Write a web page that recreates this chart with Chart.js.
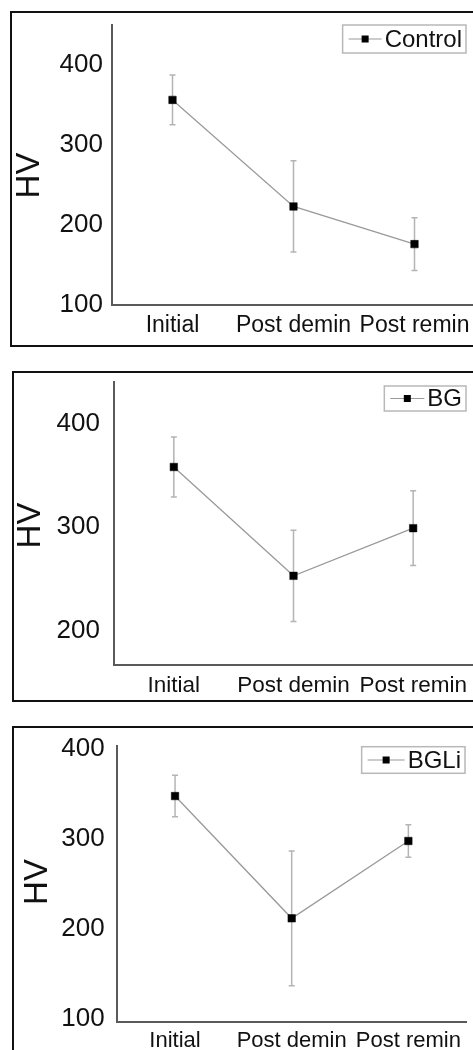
<!DOCTYPE html>
<html>
<head>
<meta charset="utf-8">
<script src="https://cdn.jsdelivr.net/npm/chart.js@4/dist/chart.umd.min.js"></script>
<style>
  html, body { margin: 0; padding: 0; background: #fff; overflow: hidden; width: 473px; height: 1050px; }
  .panel-canvas { position: absolute; left: 0; }
  .frame { position: absolute; border: 2px solid #111; box-sizing: border-box; pointer-events: none; }
</style>
</head>
<body>
<canvas id="cControl" class="panel-canvas" width="490" height="345" style="top:0px"></canvas>
<canvas id="cBG" class="panel-canvas" width="490" height="350" style="top:350px"></canvas>
<canvas id="cBGLi" class="panel-canvas" width="490" height="350" style="top:700px"></canvas>
<div class="frame" style="left:10px; top:11px; width:480px; height:336px;"></div>
<div class="frame" style="left:12px; top:371px; width:480px; height:331px;"></div>
<div class="frame" style="left:12px; top:726px; width:480px; height:400px;"></div>
<script>
// Hardness (HV) at the three stages, mean and standard deviation per group
const CATEGORIES = ['Initial', 'Post demin', 'Post remin'];
const Y_TITLE = 'HV';

const CONTROL_MEAN = [356, 223, 176];
const CONTROL_SD = [31, 57, 33];

const BG_MEAN = [358, 253, 299];
const BG_SD = [29, 44, 36];

const BGLI_MEAN = [348, 212, 298];
const BGLI_SD = [23, 75, 18];

const CONTROL_TICKS = [100, 200, 300, 400];
const BG_TICKS = [200, 300, 400];
const BGLI_TICKS = [100, 200, 300, 400];

const FONT = '"Liberation Sans", Arial, Helvetica, sans-serif';

function makePanel(id, label, means, sds, ticks, s) {
  // vertical error bars with caps, drawn under the line and markers
  const errorBars = {
    id: 'errorBars',
    beforeDatasetsDraw(chart) {
      const {ctx, scales: {x, y}} = chart;
      ctx.save();
      ctx.strokeStyle = '#b4b4b4';
      ctx.lineWidth = 1.5;
      means.forEach((m, i) => {
        const px = x.getPixelForValue(i);
        const top = y.getPixelForValue(m + sds[i]);
        const bot = y.getPixelForValue(m - sds[i]);
        ctx.beginPath();
        ctx.moveTo(px, top); ctx.lineTo(px, bot);
        ctx.moveTo(px - 3, top); ctx.lineTo(px + 3, top);
        ctx.moveTo(px - 3, bot); ctx.lineTo(px + 3, bot);
        ctx.stroke();
      });
      ctx.restore();
    }
  };

  // boxed legend in the upper right corner: line, square marker, line, name
  const boxLegend = {
    id: 'boxLegend',
    afterDraw(chart) {
      const ctx = chart.ctx;
      ctx.save();
      ctx.font = '24px ' + FONT;
      const tw = ctx.measureText(label).width;
      const symW = s.legSym;
      const w = symW + tw + 4;
      const left = s.legRight - w;
      const top = s.legTop;
      const h = s.legH;
      const cy = top + h / 2;
      ctx.strokeStyle = '#b8b8b8';
      ctx.lineWidth = 1.5;
      ctx.strokeRect(left, top, w, h);
      ctx.strokeStyle = '#9a9a9a';
      ctx.lineWidth = 1.2;
      ctx.beginPath();
      ctx.moveTo(left + 6, cy); ctx.lineTo(left + symW - 3, cy);
      ctx.stroke();
      ctx.fillStyle = '#000';
      const mx = left + (symW + 3) / 2;
      ctx.fillRect(mx - 3.5, cy - 3.5, 7, 7);
      ctx.fillStyle = '#111';
      ctx.textBaseline = 'middle';
      ctx.textAlign = 'left';
      ctx.fillText(label, left + symW, cy + 1);
      ctx.restore();
    }
  };

  // rotated axis title
  const sideTitle = {
    id: 'sideTitle',
    afterDraw(chart) {
      const ctx = chart.ctx;
      ctx.save();
      ctx.translate(s.titleX, s.titleY);
      ctx.rotate(-Math.PI / 2);
      ctx.font = '33px ' + FONT;
      ctx.fillStyle = '#111';
      ctx.textAlign = 'center';
      ctx.textBaseline = 'middle';
      ctx.fillText(Y_TITLE, 0, 0);
      ctx.restore();
    }
  };

  return new Chart(document.getElementById(id), {
    type: 'line',
    data: {
      labels: CATEGORIES,
      datasets: [{
        label: label,
        data: means,
        borderColor: '#9a9a9a',
        borderWidth: 1.3,
        pointStyle: 'rect',
        pointRadius: 5.3,
        pointBorderWidth: 0.5,
        pointBackgroundColor: '#000',
        pointBorderColor: '#000',
        tension: 0
      }]
    },
    options: {
      responsive: false,
      animation: false,
      devicePixelRatio: 1,
      layout: { padding: { top: s.padTop, right: s.padRight, bottom: 0, left: 0 } },
      plugins: { legend: { display: false }, tooltip: { enabled: false } },
      scales: {
        x: {
          type: 'category',
          offset: true,
          grid: { display: false, drawTicks: false },
          border: { display: true, color: '#5a5a5a', width: 2 },
          ticks: { color: '#111', font: { family: FONT, size: s.xFont }, padding: s.xPad, maxRotation: 0, autoSkip: false },
          afterFit(scale) { scale.height = s.xHeight; }
        },
        y: {
          min: s.yMin,
          max: s.yMax,
          grid: { display: false, drawTicks: false },
          border: { display: true, color: '#5a5a5a', width: 2 },
          ticks: { color: '#111', font: { family: FONT, size: 26 }, padding: s.yPad },
          afterBuildTicks(scale) { scale.ticks = ticks.map(v => ({ value: v })); },
          afterFit(scale) { scale.width = s.yWidth; }
        }
      }
    },
    plugins: [errorBars, boxLegend, sideTitle]
  });
}

makePanel('cControl', 'Control', CONTROL_MEAN, CONTROL_SD, CONTROL_TICKS, {
  yMin: 100, yMax: 450, padTop: 20, padRight: 15, xHeight: 40, yWidth: 112,
  xPad: 7, xFont: 23, yPad: 9, titleX: 30, titleY: 175.5,
  legRight: 466, legTop: 25, legH: 28, legSym: 42
});

makePanel('cBG', 'BG', BG_MEAN, BG_SD, BG_TICKS, {
  yMin: 167, yMax: 440, padTop: 32, padRight: 17, xHeight: 35, yWidth: 114,
  xPad: 7, xFont: 22.5, yPad: 14, titleX: 30.5, titleY: 175.5,
  legRight: 466, legTop: 36, legH: 25, legSym: 43
});

makePanel('cBGLi', 'BGLi', BGLI_MEAN, BGLI_SD, BGLI_TICKS, {
  yMin: 97, yMax: 404, padTop: 45.7, padRight: 23.3, xHeight: 28.3, yWidth: 116.7,
  xPad: 6, xFont: 22, yPad: 12, titleX: 38, titleY: 182,
  legRight: 465, legTop: 46.7, legH: 26.6, legSym: 46
});
</script>
</body>
</html>
